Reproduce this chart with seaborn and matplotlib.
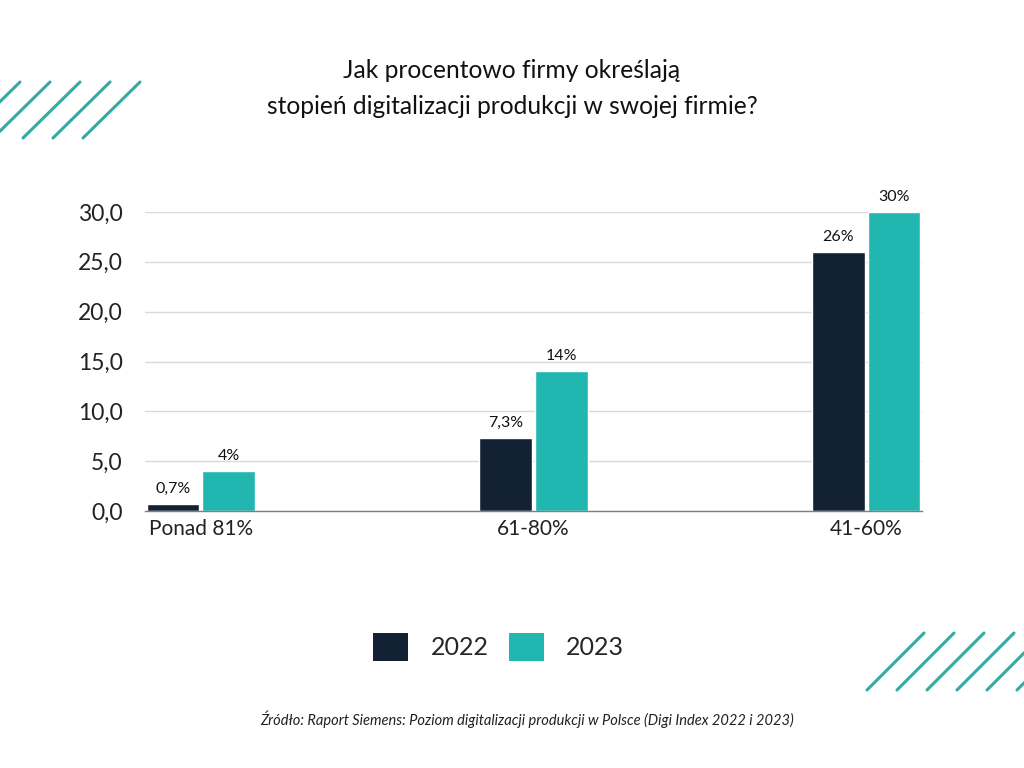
import matplotlib
matplotlib.use("Agg")
import matplotlib.pyplot as plt
import matplotlib.ticker as mticker
from matplotlib.lines import Line2D
from matplotlib.patches import Patch
import pandas as pd
import seaborn as sns

categories = ["Ponad 81%", "61-80%", "41-60%"]
years = ["2022", "2023"]
values_2022 = [0.7, 7.3, 26.0]
values_2023 = [4.0, 14.0, 30.0]
labels_2022 = ["0,7%", "7,3%", "26%"]
labels_2023 = ["4%", "14%", "30%"]

colors = {"2022": "#132134", "2023": "#22b6b0"}
stripe_color = "#36aaa2"

df = pd.DataFrame({
    "kategoria": categories * 2,
    "rok": [years[0]] * 3 + [years[1]] * 3,
    "wartosc": values_2022 + values_2023,
})

sns.set_style("white")
plt.rcParams["font.family"] = ["Lato", "DejaVu Sans"]

fig = plt.figure(figsize=(10.24, 7.68), dpi=100)
ax = fig.add_axes([145 / 1024, 1 - 511 / 768, (922 - 145) / 1024, (511 - 212) / 768])

sns.barplot(data=df, x="kategoria", y="wartosc", hue="rok", order=categories,
            hue_order=years, palette=colors, width=0.335, gap=0.06,
            saturation=1, legend=False, ax=ax)

# value labels above bars
for container, labels in zip(ax.containers, [labels_2022, labels_2023]):
    ax.bar_label(container, labels=labels, padding=6, fontsize=11.5, color="#111111")

ax.set_xlim(-0.1675, 2.1675)
ax.set_ylim(0, 30)
ax.yaxis.set_major_locator(mticker.MultipleLocator(5))
ax.yaxis.set_major_formatter(mticker.FuncFormatter(lambda v, p: f"{v:.1f}".replace(".", ",")))
ax.grid(axis="y", color="#d9d9d9", linewidth=1)
ax.set_axisbelow(True)
for s in ["top", "right", "left"]:
    ax.spines[s].set_visible(False)
ax.spines["bottom"].set_color("#7f7f7f")
ax.spines["bottom"].set_linewidth(1)
ax.tick_params(axis="y", length=0, pad=16, labelsize=16.5, labelcolor="#222222")
ax.tick_params(axis="x", length=0, pad=6, labelsize=15, labelcolor="#222222")
ax.set_xlabel("")
ax.set_ylabel("")

fig.text(0.5, 1 - 70 / 768, "Jak procentowo firmy określają", ha="center", va="center",
         fontsize=17.7, color="#111111")
fig.text(0.5, 1 - 106 / 768, "stopień digitalizacji produkcji w swojej firmie?", ha="center",
         va="center", fontsize=17.7, color="#111111")

handles = [Patch(facecolor=colors[y], edgecolor="none") for y in years]
fig.legend(handles, years, loc="center", bbox_to_anchor=(0.487, 1 - 647 / 768), ncol=2,
           frameon=False, fontsize=18, handlelength=1.4, handleheight=1.4,
           handletextpad=0.9, columnspacing=0.8)

fig.text(0.515, 1 - 719 / 768,
         "Źródło: Raport Siemens: Poziom digitalizacji produkcji w Polsce (Digi Index 2022 i 2023)",
         ha="center", va="center", fontsize=10.5, style="italic", color="#222222")

# decorative stripes
for i in range(5):
    x0, x1 = -37 + 30 * i, 20 + 30 * i
    fig.add_artist(Line2D([x0 / 1024, x1 / 1024], [1 - 138 / 768, 1 - 82 / 768],
                          color=stripe_color, linewidth=2.2))
for i in range(6):
    x0, x1 = 867 + 30 * i, 924 + 30 * i
    fig.add_artist(Line2D([x0 / 1024, x1 / 1024], [1 - 690 / 768, 1 - 633 / 768],
                          color=stripe_color, linewidth=2.2))

fig.savefig("out.png", dpi=100)
